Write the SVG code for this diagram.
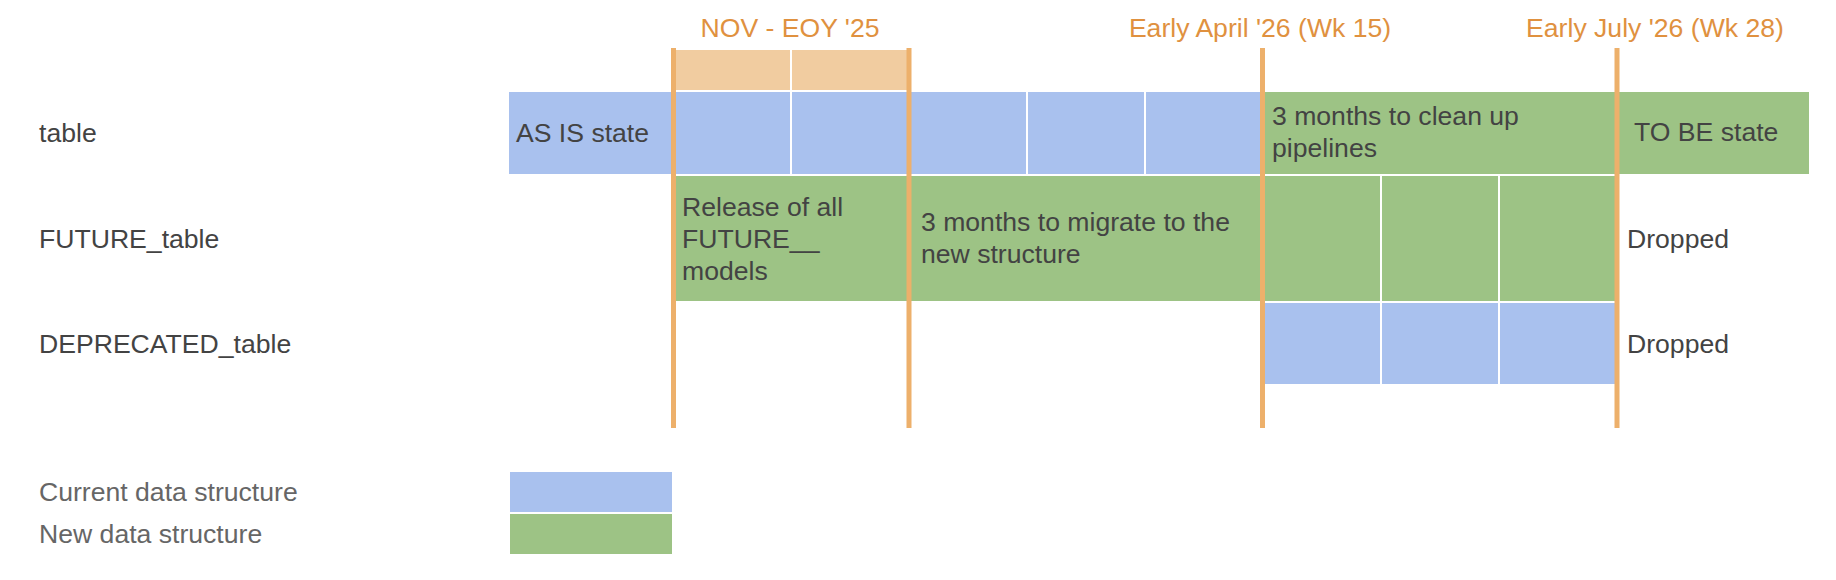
<svg xmlns="http://www.w3.org/2000/svg" width="1836" height="580" viewBox="0 0 1836 580">
<style>
text{font-family:"Liberation Sans",Arial,sans-serif;font-size:26.6px;fill:#434343}
.hdr{fill:#e0913f}
.leg{fill:#666666}
.blue{fill:#a9c1ee}
.green{fill:#9dc385}
.peach{fill:#f1cca0}
.ms{stroke:#edb06b;stroke-width:5;fill:none}
</style>
<rect width="1836" height="580" fill="#ffffff"/>
<g id="headers">
<text class="hdr" x="790" y="37" text-anchor="middle">NOV - EOY '25</text>
<text class="hdr" x="1260" y="37" text-anchor="middle">Early April '26 (Wk 15)</text>
<text class="hdr" x="1655" y="37" text-anchor="middle">Early July '26 (Wk 28)</text>
</g>
<g id="row-labels">
<text x="39" y="142">table</text>
<text x="39" y="248">FUTURE_table</text>
<text x="39" y="353">DEPRECATED_table</text>
</g>
<g id="peach-band">
<rect class="peach" x="674" y="50" width="116" height="40"/>
<rect class="peach" x="792" y="50" width="116" height="40"/>
</g>
<g id="row-table">
<rect class="blue" x="509" y="92" width="163" height="82"/>
<text x="516" y="142">AS IS state</text>
<rect class="blue" x="674" y="92" width="116" height="82"/>
<rect class="blue" x="792" y="92" width="116" height="82"/>
<rect class="blue" x="910" y="92" width="116" height="82"/>
<rect class="blue" x="1028" y="92" width="116" height="82"/>
<rect class="blue" x="1146" y="92" width="116" height="82"/>
<rect class="green" x="1264" y="92" width="352" height="82"/>
<text x="1272" y="125">3 months to clean up</text>
<text x="1272" y="157">pipelines</text>
<rect class="green" x="1618" y="92" width="191" height="82"/>
<text x="1634" y="141">TO BE state</text>
</g>
<g id="row-future">
<rect class="green" x="674" y="176" width="234" height="125"/>
<text x="682" y="216">Release of all</text>
<text x="682" y="248">FUTURE__</text>
<text x="682" y="280">models</text>
<rect class="green" x="910" y="176" width="352" height="125"/>
<text x="921" y="231">3 months to migrate to the</text>
<text x="921" y="263">new structure</text>
<rect class="green" x="1264" y="176" width="116" height="125"/>
<rect class="green" x="1382" y="176" width="116" height="125"/>
<rect class="green" x="1500" y="176" width="116" height="125"/>
<text x="1627" y="248">Dropped</text>
</g>
<g id="row-deprecated">
<rect class="blue" x="1264" y="303" width="116" height="81"/>
<rect class="blue" x="1382" y="303" width="116" height="81"/>
<rect class="blue" x="1500" y="303" width="116" height="81"/>
<text x="1627" y="353">Dropped</text>
</g>
<g id="connectors">
<line class="ms" x1="673.5" y1="48" x2="673.5" y2="428"/>
<line class="ms" x1="909" y1="48" x2="909" y2="428"/>
<line class="ms" x1="1262.5" y1="48" x2="1262.5" y2="428"/>
<line class="ms" x1="1617" y1="48" x2="1617" y2="428"/>
</g>
<g id="legend">
<rect class="blue" x="510" y="472" width="162" height="40"/>
<rect class="green" x="510" y="514" width="162" height="40"/>
<text class="leg" x="39" y="501">Current data structure</text>
<text class="leg" x="39" y="543">New data structure</text>
</g>
</svg>
